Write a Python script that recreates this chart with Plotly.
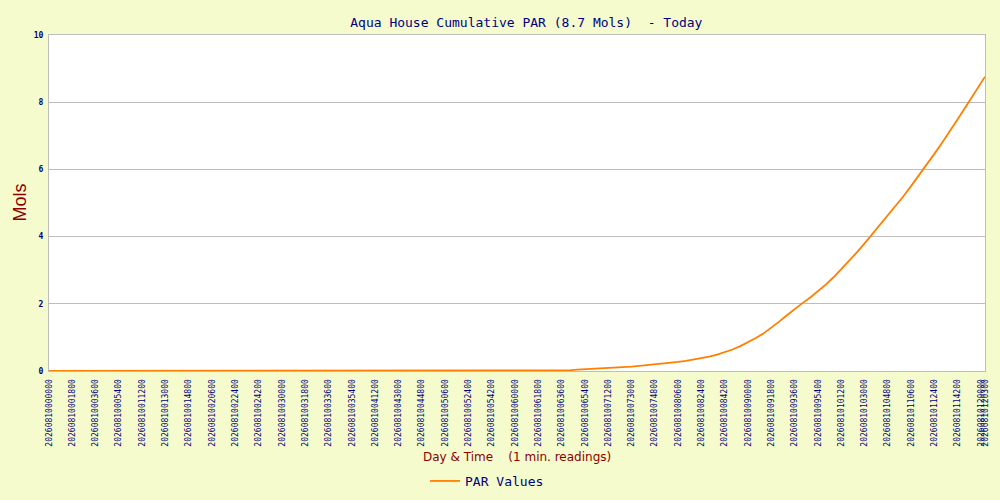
import plotly.graph_objects as go

# minutes since midnight of each reading (one kept every 6 minutes) and the last reading
reading_minutes = list(range(0, 721, 6)) + [723]

cumulative_par = [
    0.00, 0.00, 0.00, 0.00, 0.00, 0.00, 0.00, 0.00, 0.00, 0.00,  # 00:00 - 00:54
    0.00, 0.00, 0.00, 0.00, 0.00, 0.00, 0.00, 0.00, 0.00, 0.00,  # 01:00 - 01:54
    0.00, 0.00, 0.00, 0.00, 0.00, 0.00, 0.00, 0.00, 0.00, 0.00,  # 02:00 - 02:54
    0.00, 0.00, 0.00, 0.00, 0.00, 0.00, 0.00, 0.00, 0.00, 0.00,  # 03:00 - 03:54
    0.00, 0.00, 0.00, 0.00, 0.00, 0.00, 0.00, 0.00, 0.00, 0.00,  # 04:00 - 04:54
    0.00, 0.00, 0.00, 0.00, 0.00, 0.00, 0.00, 0.00, 0.00, 0.00,  # 05:00 - 05:54
    0.00, 0.00, 0.00, 0.00, 0.00, 0.00, 0.00, 0.02, 0.04, 0.05,  # 06:00 - 06:54
    0.06, 0.07, 0.09, 0.10, 0.11, 0.13, 0.15, 0.17, 0.19, 0.21,  # 07:00 - 07:54
    0.24, 0.27, 0.30, 0.34, 0.38, 0.43, 0.49, 0.56, 0.64, 0.74,  # 08:00 - 08:54
    0.85, 0.98, 1.12, 1.29, 1.47, 1.66, 1.85, 2.02, 2.19, 2.37,  # 09:00 - 09:54
    2.57, 2.79, 3.03, 3.27, 3.53, 3.80, 4.08, 4.35, 4.61, 4.89,  # 10:00 - 10:54
    5.20, 5.51, 5.82, 6.14, 6.47, 6.80, 7.14, 7.50, 7.86, 8.22,  # 11:00 - 11:54
    8.58,                                                        # 12:00
    8.76,                                                        # 12:03 (last reading)
]

tick_minutes = [
    0, 18, 36, 54, 72, 90, 108, 126, 144, 162, 180, 198, 216, 234,
    252, 270, 288, 306, 324, 342, 360, 378, 396, 414, 432, 450, 468,
    486, 504, 522, 540, 558, 576, 594, 612, 630, 648, 666, 684, 702,
    720, 723,
]
tick_labels = [
    "20260810000000", "20260810001800", "20260810003600", "20260810005400",
    "20260810011200", "20260810013000", "20260810014800", "20260810020600",
    "20260810022400", "20260810024200", "20260810030000", "20260810031800",
    "20260810033600", "20260810035400", "20260810041200", "20260810043000",
    "20260810044800", "20260810050600", "20260810052400", "20260810054200",
    "20260810060000", "20260810061800", "20260810063600", "20260810065400",
    "20260810071200", "20260810073000", "20260810074800", "20260810080600",
    "20260810082400", "20260810084200", "20260810090000", "20260810091800",
    "20260810093600", "20260810095400", "20260810101200", "20260810103000",
    "20260810104800", "20260810110600", "20260810112400", "20260810114200",
    "20260810120000", "20260810120300",
]

NAVY = "#000080"
DARK_RED = "#8B0000"
GRID = "#BDBDBD"
MONO = "DejaVu Sans Mono"

fig = go.Figure()
fig.add_trace(go.Scatter(
    x=reading_minutes, y=cumulative_par, mode="lines", name="PAR Values",
    line=dict(color="#FF8000", width=1.8),
))

fig.update_layout(
    width=1000, height=500,
    paper_bgcolor="#F5FBCC", plot_bgcolor="#FFFFFF",
    margin=dict(l=49, r=15, t=35, b=129, autoexpand=False),
    title=dict(
        text="Aqua House Cumulative PAR (8.7 Mols)\u00a0\u00a0- Today",
        x=0.51, xref="paper", xanchor="center",
        y=1 - 22 / 500, yref="container", yanchor="middle",
        font=dict(family=MONO, size=13, color=NAVY),
    ),
    showlegend=True,
    legend=dict(
        orientation="h", x=0.468, xanchor="center",
        y=1 - 481 / 500, yref="container", yanchor="middle",
        font=dict(family=MONO, size=13, color=NAVY), bgcolor="rgba(0,0,0,0)",
    ),
)

fig.update_xaxes(
    range=[0, 723], tickmode="array", tickvals=tick_minutes, ticktext=tick_labels,
    tickangle=-90, tickfont=dict(family=MONO, size=8, color=NAVY),
    showgrid=False, zeroline=False, showline=True, mirror=True,
    linecolor=GRID, linewidth=1, ticks="", ticklabelstandoff=4, automargin=False,
)
fig.update_yaxes(
    range=[0, 10], dtick=2, tickfont=dict(family=MONO, size=8, color=NAVY, weight="bold"),
    showgrid=True, gridcolor=GRID, gridwidth=1, zeroline=False,
    showline=True, mirror=True, linecolor=GRID, linewidth=1, ticks="",
    ticklabelstandoff=3, automargin=False,
)

fig.add_annotation(
    text="Mols", textangle=-90, xref="paper", yref="paper",
    x=-0.0315, y=0.5, xanchor="center", yanchor="middle", showarrow=False,
    font=dict(family="Liberation Sans", size=18, color=DARK_RED),
)
fig.add_annotation(
    text="Day & Time\u00a0\u00a0\u00a0\u00a0(1 min. readings)", xref="paper", yref="paper",
    x=0.5, y=-0.256, xanchor="center", yanchor="middle", showarrow=False,
    font=dict(family="DejaVu Sans", size=12, color=DARK_RED),
)

# drop the page's default body margin so the chart sits at the window corner
fig.write_html(
    "out.html",
    config={"displayModeBar": False},
    post_script="document.body.style.margin = '0';",
)
